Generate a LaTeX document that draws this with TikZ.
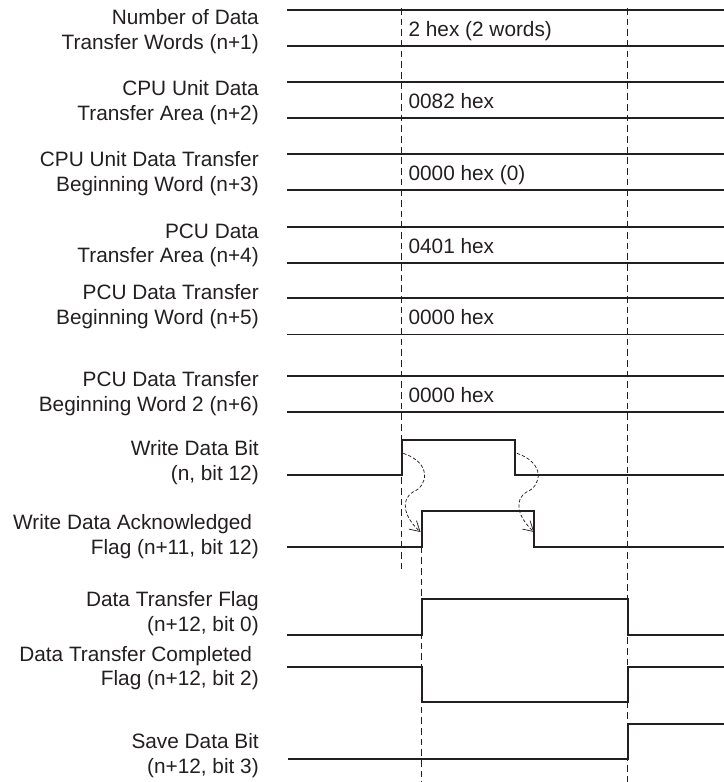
\documentclass[tikz,border=0pt]{standalone}
\usepackage{fontspec}
\setmainfont{Liberation Sans}
\usetikzlibrary{arrows.meta}
\definecolor{tdInk}{HTML}{231F20}

\begin{document}
\begin{tikzpicture}[
  x=0.75pt,y=-0.75pt,
  font=\fontsize{15.6}{18.4}\selectfont,
  lbl/.style={anchor=base east,align=right,inner sep=0pt,text=tdInk},
  val/.style={anchor=base west,inner sep=0pt,text=tdInk},
  sig/.style={draw=tdInk,line width=1.3pt},
  guide/.style={draw=tdInk,line width=0.7pt,dash pattern=on 5pt off 3pt},
  cause/.style={draw=tdInk,line width=0.55pt,dash pattern=on 2.5pt off 1.5pt,-{Straight Barb[length=2.6mm,width=3mm]}}
]
\useasboundingbox (0,0) rectangle (724,782);

\foreach \y/\v [count=\i] in {10/2 hex (2 words),81.7/0082 hex,154/0000 hex (0),226.7/0401 hex,298.3/0000 hex,376/0000 hex}{
  \draw[sig] (287.3,\y) -- (724,\y);
  \draw[sig] (287.3,\y+36.3) -- (724,\y+36.3);
  \node[val] (val\i) at (408.3,\y+26.3) {\v};
}

\node[lbl] (wcount) at (259,49) {Number of Data\\Transfer Words (n+1)};
\node[lbl] (cpuarea) at (259,120.5) {CPU Unit Data\\Transfer Area (n+2)};
\node[lbl] (cpuword) at (259,191) {CPU Unit Data Transfer\\Beginning Word (n+3)};
\node[lbl] (pcuarea) at (259,262.7) {PCU Data\\Transfer Area (n+4)};
\node[lbl] (pcuword) at (259,324) {PCU Data Transfer\\Beginning Word (n+5)};
\node[lbl] (pcuwordb) at (259,411.5) {PCU Data Transfer\\Beginning Word 2 (n+6)};
\node[lbl] (wbit) at (259,480) {Write Data Bit\\(n, bit 12)};
\node[lbl] (wack) at (259,554) {Write Data Acknowledged\hspace*{5pt}\\Flag (n+11, bit 12)};
\node[lbl] (tflag) at (259,631) {Data Transfer Flag\\(n+12, bit 0)};
\node[lbl] (tdone) at (259,685.7) {Data Transfer Completed\hspace*{5pt}\\Flag (n+12, bit 2)};
\node[lbl] (sbit) at (259,773.3) {Save Data Bit\\(n+12, bit 3)};

\draw[sig] (287.3,475) -| (401.7,440) -| (515,475) -- (724,475);
\draw[sig] (287.3,546.7) -| (421.7,510.7) -| (534.3,546.7) -- (724,546.7);
\draw[sig] (287.3,635) -| (421.7,599.3) -| (627.7,635) -- (724,635);
\draw[sig] (287.3,666.7) -| (421.7,701.7) -| (627.7,666.7) -- (724,666.7);
\draw[sig] (288,759) -| (627.7,724) -- (724,724);

\draw[guide] (401.7,8) -- (401.7,570);
\draw[guide] (627.7,8) -- (627.7,782);
\draw[guide] (421.7,546.7) -- (421.7,782);

\coordinate (wup) at (403.3,453.3);
\coordinate (ackup) at (420.5,532);
\coordinate (wdown) at (516.9,453.3);
\coordinate (ackdown) at (534.1,532);
\draw[cause] (wup) .. controls (432,463) and (428,486) .. (413,492) .. controls (400,500) and (404,517) .. (ackup);
\draw[cause] (wdown) .. controls (545.6,463) and (541.6,486) .. (526.6,492) .. controls (513.6,500) and (517.6,517) .. (ackdown);
\end{tikzpicture}
\end{document}
